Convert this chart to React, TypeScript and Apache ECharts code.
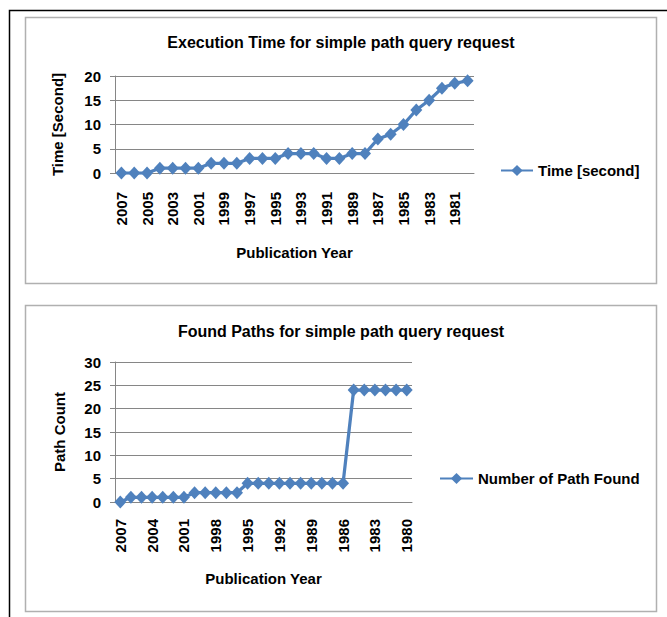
import React, { useEffect, useRef } from "react";
import * as echarts from "echarts";

const years = [
  "2007", "2006", "2005", "2004", "2003", "2002", "2001", "2000", "1999", "1998",
  "1997", "1996", "1995", "1994", "1993", "1992", "1991", "1990", "1989", "1988",
  "1987", "1986", "1985", "1984", "1983", "1982", "1981", "1980",
];

const timeSeconds = [
  0, 0, 0, 1, 1, 1, 1, 2, 2, 2, 3, 3, 3, 4, 4, 4, 3, 3, 4, 4, 7, 8, 10, 13, 15, 17.5, 18.5, 19,
];

const pathCounts = [
  0, 1, 1, 1, 1, 1, 1, 2, 2, 2, 2, 2, 4, 4, 4, 4, 4, 4, 4, 4, 4, 4, 24, 24, 24, 24, 24, 24,
];

const chart1Title = "Execution Time for simple path query request";
const chart2Title = "Found Paths for simple path query request";
const series1Name = "Time [second]";
const series2Name = "Number of Path Found";
const y1Name = "Time [Second]";
const y2Name = "Path Count";
const xName = "Publication Year";

const FONT = "'Liberation Sans', Arial, sans-serif";
const BLUE = "#4F81BD";
const GRID = "#868686";

export default function App() {
  const ref = useRef<HTMLDivElement>(null);

  useEffect(() => {
    if (!ref.current) return;
    const chart = echarts.init(ref.current, undefined, { renderer: "svg" });

    const bold15 = { fontFamily: FONT, fontWeight: "bold" as const, fontSize: 15, color: "#000" };

    const xAxisCommon = (interval: number, margin: number, nameGap: number, gridIndex: number) => ({
      type: "category" as const,
      gridIndex,
      data: years,
      boundaryGap: true,
      name: xName,
      nameLocation: "middle" as const,
      nameGap,
      nameTextStyle: bold15,
      axisLine: { show: true, lineStyle: { color: GRID, width: 1 } },
      axisTick: { show: false },
      axisLabel: { ...bold15, rotate: 90, interval, margin },
      splitLine: { show: false },
    });

    const yAxisCommon = (max: number, name: string, nameGap: number, gridIndex: number) => ({
      type: "value" as const,
      gridIndex,
      min: 0,
      max,
      interval: 5,
      name,
      nameLocation: "middle" as const,
      nameRotate: 90,
      nameGap,
      nameTextStyle: bold15,
      axisLine: { show: true, lineStyle: { color: GRID, width: 1 } },
      axisTick: { show: true, length: 5, lineStyle: { color: GRID, width: 1 } },
      axisLabel: { ...bold15, margin: 14 },
      splitLine: { show: true, lineStyle: { color: GRID, width: 1.2 } },
    });

    const lineSeries = (name: string, data: number[], idx: number) => ({
      type: "line" as const,
      name,
      data,
      xAxisIndex: idx,
      yAxisIndex: idx,
      symbol: "diamond",
      symbolSize: [12, 13],
      showAllSymbol: true,
      itemStyle: { color: BLUE },
      lineStyle: { color: BLUE, width: 3.25 },
    });

    chart.setOption({
      animation: false,
      backgroundColor: "#fff",
      title: [
        {
          text: chart1Title,
          left: 341,
          top: 34,
          textAlign: "center",
          padding: 0,
          textStyle: { fontFamily: FONT, fontWeight: "bold", fontSize: 16, color: "#000" },
        },
        {
          text: chart2Title,
          left: 341,
          top: 323,
          textAlign: "center",
          padding: 0,
          textStyle: { fontFamily: FONT, fontWeight: "bold", fontSize: 16, color: "#000" },
        },
      ],
      legend: [
        {
          data: [series1Name],
          left: 500,
          top: 163,
          padding: 0,
          itemWidth: 32,
          itemHeight: 14,
          itemGap: 5,
          textStyle: bold15,
        },
        {
          data: [series2Name],
          left: 439,
          top: 471,
          padding: 0,
          itemWidth: 33,
          itemHeight: 14,
          itemGap: 5,
          textStyle: bold15,
        },
      ],
      grid: [
        { left: 115, top: 76, width: 359, height: 97, containLabel: false },
        { left: 115, top: 362, width: 297, height: 140, containLabel: false },
      ],
      xAxis: [xAxisCommon(1, 19, 72, 0), xAxisCommon(2, 17, 69, 1)],
      yAxis: [yAxisCommon(20, y1Name, 50, 0), yAxisCommon(30, y2Name, 48, 1)],
      series: [lineSeries(series1Name, timeSeconds, 0), lineSeries(series2Name, pathCounts, 1)],
      graphic: [
        {
          type: "rect",
          silent: true,
          z: -10,
          shape: { x: 9.5, y: 10.5, width: 800, height: 800 },
          style: { fill: "none", stroke: "#000", lineWidth: 1.5 },
        },
        {
          type: "rect",
          silent: true,
          z: -10,
          shape: { x: 25.5, y: 17.5, width: 631, height: 266 },
          style: { fill: "none", stroke: "#B0B0B0", lineWidth: 1.5 },
        },
        {
          type: "rect",
          silent: true,
          z: -10,
          shape: { x: 25.5, y: 305.5, width: 631, height: 306 },
          style: { fill: "none", stroke: "#B0B0B0", lineWidth: 1.5 },
        },
      ],
    });

    return () => chart.dispose();
  }, []);

  return (
    <div
      ref={ref}
      style={{ position: "absolute", left: 0, top: 0, width: 667, height: 617 }}
    />
  );
}
